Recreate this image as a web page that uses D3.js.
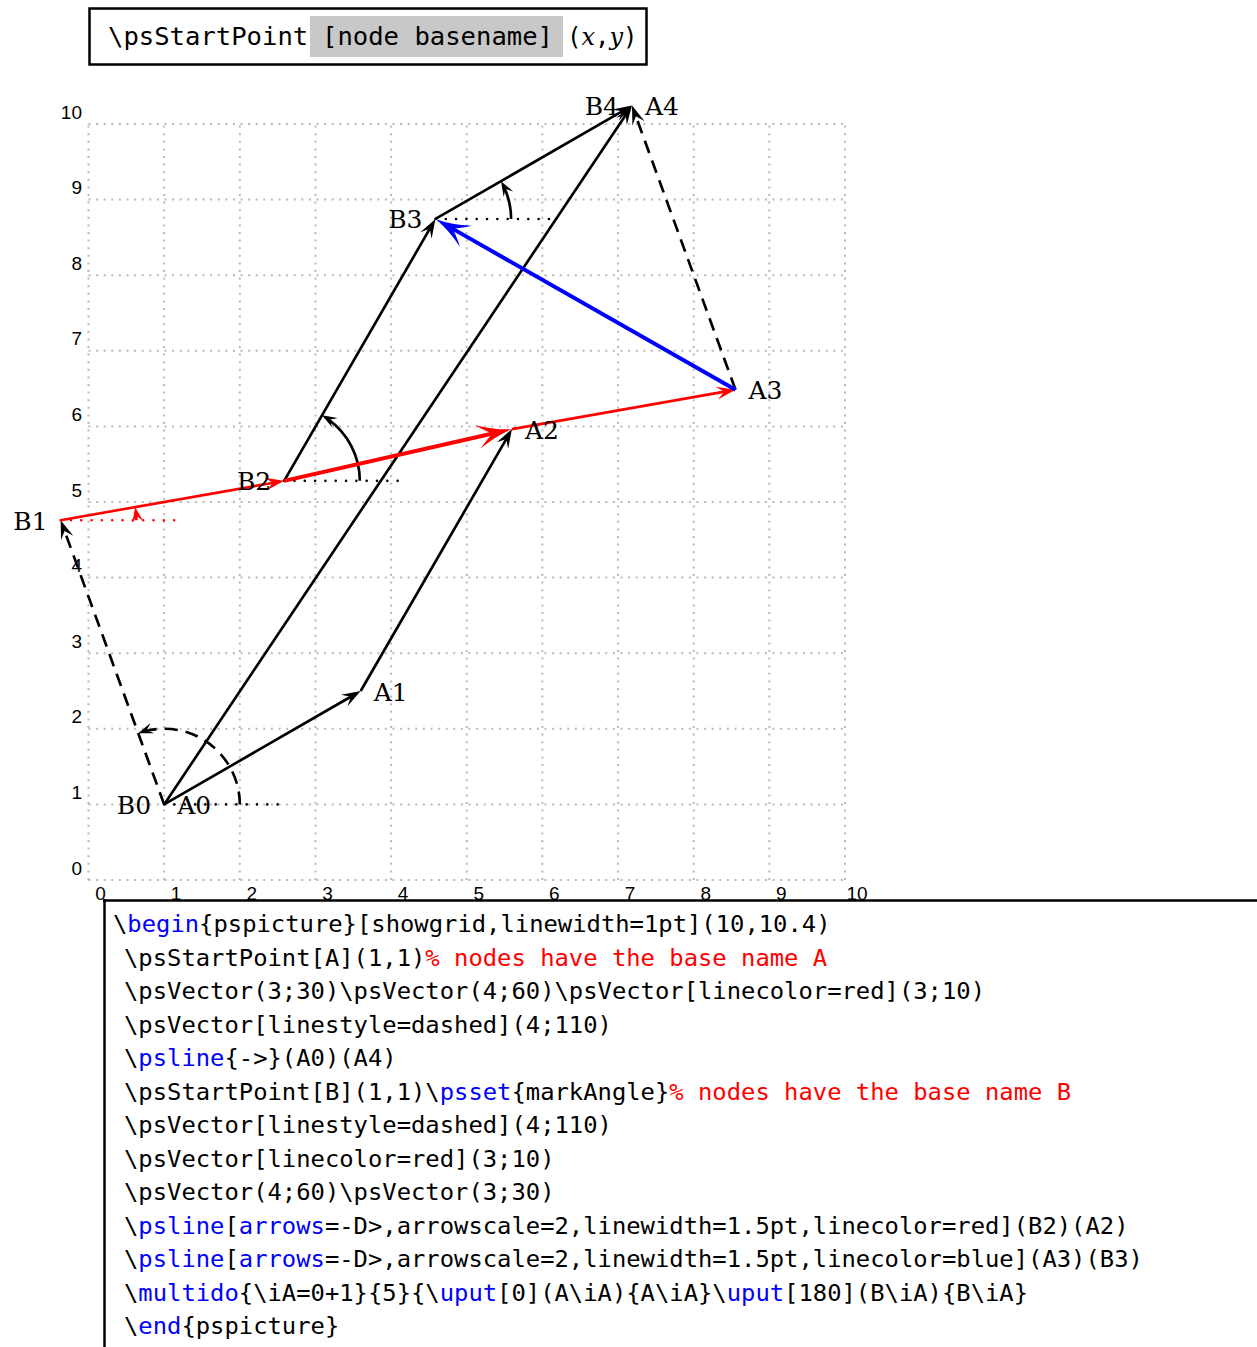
<!DOCTYPE html>
<html>
<head>
<meta charset="utf-8">
<script src="https://cdn.jsdelivr.net/npm/d3@7/dist/d3.min.js"></script>
<style>
  body { margin: 0; background: #fff; }
  svg text { white-space: pre; }
</style>
</head>
<body>
<svg id="chart" width="1257" height="1347"></svg>
<script>
// --- data ---
const startPoint = [1, 1];
const lengthsA = [3, 4, 3, 4];
const anglesA = [30, 60, 10, 110];
const lengthsB = [4, 3, 4, 3];
const anglesB = [110, 10, 60, 30];
const namesA = ['A0', 'A1', 'A2', 'A3', 'A4'];
const namesB = ['B0', 'B1', 'B2', 'B3', 'B4'];
const xTicks = [0, 1, 2, 3, 4, 5, 6, 7, 8, 9, 10];
const yTicks = [0, 1, 2, 3, 4, 5, 6, 7, 8, 9, 10];
const markRadius = 1;
const markLineLength = 1.5;

// styles per vector (kept apart from values)
const styleA = [
  { color: '#000', dash: null },
  { color: '#000', dash: null },
  { color: '#ff0000', dash: null },
  { color: '#000', dash: '13 8' }
];
const styleB = [
  { color: '#000', dash: '13 8' },
  { color: '#ff0000', dash: null },
  { color: '#000', dash: null },
  { color: '#000', dash: null }
];

const headerParts = ['\\psStartPoint', '[node basename]'];

const codeLines = [
  [['\\'], ['begin', 'kw'], ['{pspicture}[showgrid,linewidth=1pt](10,10.4)']],
  [['\\psStartPoint[A](1,1)'], ['% nodes have the base name A', 'cm']],
  [['\\psVector(3;30)\\psVector(4;60)\\psVector[linecolor=red](3;10)']],
  [['\\psVector[linestyle=dashed](4;110)']],
  [['\\'], ['psline', 'kw'], ['{->}(A0)(A4)']],
  [['\\psStartPoint[B](1,1)\\'], ['psset', 'kw'], ['{markAngle}'], ['% nodes have the base name B', 'cm']],
  [['\\psVector[linestyle=dashed](4;110)']],
  [['\\psVector[linecolor=red](3;10)']],
  [['\\psVector(4;60)\\psVector(3;30)']],
  [['\\'], ['psline', 'kw'], ['['], ['arrows', 'kw'], ['=-D>,arrowscale=2,linewidth=1.5pt,linecolor=red](B2)(A2)']],
  [['\\'], ['psline', 'kw'], ['['], ['arrows', 'kw'], ['=-D>,arrowscale=2,linewidth=1.5pt,linecolor=blue](A3)(B3)']],
  [['\\'], ['multido', 'kw'], ['{\\iA=0+1}{5}{\\'], ['uput', 'kw'], ['[0](A\\iA){A\\iA}\\'], ['uput', 'kw'], ['[180](B\\iA){B\\iA}']],
  [['\\'], ['end', 'kw'], ['{pspicture}']]
];

// --- setup ---
const svg = d3.select('#chart');
svg.append('rect').attr('width', 1257).attr('height', 1347).attr('fill', '#fff');

const x = d3.scaleLinear().domain([0, 10]).range([88.5, 845]);
const y = d3.scaleLinear().domain([0, 10]).range([880, 124]);
const LW = 2.66;

// walk polar vectors from the start point
function walk(lengths, angles) {
  const pts = [startPoint.slice()];
  lengths.forEach((r, i) => {
    const p = pts[pts.length - 1];
    const a = angles[i] * Math.PI / 180;
    pts.push([p[0] + r * Math.cos(a), p[1] + r * Math.sin(a)]);
  });
  return pts;
}
const ptsA = walk(lengthsA, anglesA);
const ptsB = walk(lengthsB, anglesB);

// --- grid ---
const grid = svg.append('g').attr('stroke', '#b8b8b8').attr('stroke-width', 2)
  .attr('stroke-dasharray', '2 5.6');
grid.selectAll('line.v').data(xTicks).join('line')
  .attr('x1', d => x(d)).attr('x2', d => x(d))
  .attr('y1', y(0)).attr('y2', y(10));
grid.selectAll('line.h').data(yTicks).join('line')
  .attr('class', 'h')
  .attr('y1', d => y(d)).attr('y2', d => y(d))
  .attr('x1', x(0)).attr('x2', x(10));

const xAxis = svg.append('g').attr('transform', 'translate(11.5,900)')
  .call(d3.axisBottom(x).tickValues(xTicks).tickSize(0).tickFormat(d3.format('d')));
xAxis.select('.domain').remove();
xAxis.selectAll('text').attr('y', 0).attr('dy', 0)
  .attr('font-family', 'Liberation Sans, Arial, sans-serif').attr('font-size', 19).attr('fill', '#000');

const yAxis = svg.append('g').attr('transform', 'translate(82,-6)')
  .call(d3.axisLeft(y).tickValues(yTicks).tickSize(0).tickFormat(d3.format('d')));
yAxis.select('.domain').remove();
yAxis.selectAll('text').attr('x', 0).attr('dy', 0)
  .attr('font-family', 'Liberation Sans, Arial, sans-serif').attr('font-size', 19).attr('fill', '#000');

// --- arrows ---
function headPath(kind) {
  if (kind === 'D') {
    const L = 35, W = 24;
    return `M0,0 Q${-0.45 * L},${-0.1 * W} ${-L},${-W / 2} Q${-0.7 * L},${-0.1 * W} ${-0.55 * L},0 ` +
      `Q${-0.7 * L},${0.1 * W} ${-L},${W / 2} Q${-0.45 * L},${0.1 * W} 0,0 Z`;
  }
  const L = kind === 'small' ? 15 : 19, W = kind === 'small' ? 11 : 13;
  return `M0,0 L${-L},${-W / 2} L${-0.6 * L},0 L${-L},${W / 2} Z`;
}
function headBack(kind) {
  return kind === 'D' ? 35 * 0.5 : 19 * 0.5;
}

const marks = svg.append('g');

function drawHead(tx, ty, angDeg, kind, color) {
  marks.append('path').attr('d', headPath(kind))
    .attr('fill', color)
    .attr('transform', `translate(${tx},${ty}) rotate(${angDeg})`);
}

function arrow(p0, p1, opt) {
  const x0 = x(p0[0]), y0 = y(p0[1]), x1 = x(p1[0]), y1 = y(p1[1]);
  const dx = x1 - x0, dy = y1 - y0, len = Math.hypot(dx, dy);
  const back = headBack(opt.head);
  const ex = x1 - dx / len * back, ey = y1 - dy / len * back;
  const ln = marks.append('line')
    .attr('x1', x0).attr('y1', y0).attr('x2', ex).attr('y2', ey)
    .attr('stroke', opt.color).attr('stroke-width', opt.width || LW);
  if (opt.dash) ln.attr('stroke-dasharray', opt.dash);
  drawHead(x1, y1, Math.atan2(dy, dx) * 180 / Math.PI, opt.head, opt.color);
}

// vectors from A
for (let i = 0; i < lengthsA.length; i++) {
  arrow(ptsA[i], ptsA[i + 1], { color: styleA[i].color, dash: styleA[i].dash, head: 'thin' });
}
// \psline{->}(A0)(A4)
arrow(ptsA[0], ptsA[4], { color: '#000', head: 'thin' });

// vectors from B with angle marks
for (let i = 0; i < lengthsB.length; i++) {
  const p = ptsB[i], st = styleB[i];
  const cx = x(p[0]), cy = y(p[1]);
  // dotted horizontal reference
  const dl = x(p[0] + markLineLength) - cx;
  marks.append('line')
    .attr('x1', cx).attr('y1', cy)
    .attr('x2', cx + dl + 1).attr('y2', cy)
    .attr('stroke', st.color).attr('stroke-width', 2.6)
    .attr('stroke-linecap', 'round').attr('stroke-dasharray', `0 ${dl / 11}`);
  // arc
  const r = x(markRadius) - x(0);
  const th = anglesB[i] * Math.PI / 180;
  const stop = th - 7 / r;
  const path = d3.path();
  path.moveTo(cx + r, cy);
  path.arc(cx, cy, r, 0, -stop, true);
  const arc = marks.append('path').attr('d', path.toString())
    .attr('fill', 'none').attr('stroke', st.color).attr('stroke-width', LW);
  if (st.dash) arc.attr('stroke-dasharray', st.dash);
  const tx = cx + r * Math.cos(th), ty = cy - r * Math.sin(th);
  drawHead(tx, ty, Math.atan2(-Math.cos(th), -Math.sin(th)) * 180 / Math.PI, 'small', st.color);
  arrow(ptsB[i], ptsB[i + 1], { color: st.color, dash: st.dash, head: 'thin' });
}

// thick lines with D> arrows
arrow(ptsB[2], ptsA[2], { color: '#ff0000', width: 4, head: 'D' });
arrow(ptsA[3], ptsB[3], { color: '#0000ff', width: 4, head: 'D' });

// --- node labels ---
const labels = svg.append('g').attr('font-family', 'DejaVu Serif, serif').attr('font-size', 25)
  .attr('fill', '#000').attr('dominant-baseline', 'central');
labels.selectAll('text.a').data(ptsA).join('text').attr('class', 'a')
  .attr('x', d => x(d[0]) + 13).attr('y', d => y(d[1]) + 1)
  .attr('text-anchor', 'start').text((d, i) => namesA[i]);
labels.selectAll('text.b').data(ptsB).join('text').attr('class', 'b')
  .attr('x', d => x(d[0]) - 13).attr('y', d => y(d[1]) + 1)
  .attr('text-anchor', 'end').text((d, i) => namesB[i]);

// --- header box ---
const head = svg.append('g');
head.append('rect').attr('x', 89.5).attr('y', 8.5).attr('width', 557).attr('height', 56)
  .attr('fill', '#fff').attr('stroke', '#000').attr('stroke-width', 2.5);
head.append('rect').attr('x', 310).attr('y', 16).attr('width', 253).attr('height', 41)
  .attr('fill', '#c8c8c8');
const hcw = 15.4;
head.append('text').attr('x', 108).attr('y', 45)
  .attr('font-family', 'DejaVu Sans Mono, monospace').attr('font-size', 24)
  .attr('textLength', headerParts[0].length * hcw).attr('lengthAdjust', 'spacingAndGlyphs')
  .text(headerParts[0]);
head.append('text').attr('x', 322).attr('y', 45)
  .attr('font-family', 'DejaVu Sans Mono, monospace').attr('font-size', 24)
  .attr('textLength', headerParts[1].length * hcw).attr('lengthAdjust', 'spacingAndGlyphs')
  .text(headerParts[1]);
const xy = head.append('text').attr('x', 567).attr('y', 45)
  .attr('font-family', 'DejaVu Sans Mono, monospace').attr('font-size', 24);
xy.append('tspan').text('(');
xy.append('tspan').attr('font-family', 'DejaVu Serif, serif').attr('font-style', 'italic').text('x');
xy.append('tspan').text(',');
xy.append('tspan').attr('font-family', 'DejaVu Serif, serif').attr('font-style', 'italic').text('y');
xy.append('tspan').text(')');

// --- code listing ---
const code = svg.append('g');
code.append('line').attr('x1', 104.5).attr('x2', 104.5).attr('y1', 899).attr('y2', 1347)
  .attr('stroke', '#000').attr('stroke-width', 2.5);
code.append('line').attr('x1', 103).attr('x2', 1257).attr('y1', 900.5).attr('y2', 900.5)
  .attr('stroke', '#000').attr('stroke-width', 2.5);
const cw = 14.35;
const colors = { kw: '#0000ff', cm: '#ff0000' };
codeLines.forEach((segs, li) => {
  let col = 0;
  const x0 = li === 0 ? 113 : 124;
  const by = 932 + li * 33.5;
  segs.forEach(([t, k]) => {
    code.append('text')
      .attr('x', x0 + col * cw).attr('y', by)
      .attr('font-family', 'DejaVu Sans Mono, monospace').attr('font-size', 23)
      .attr('fill', colors[k] || '#000')
      .attr('textLength', t.length * cw).attr('lengthAdjust', 'spacingAndGlyphs')
      .text(t);
    col += t.length;
  });
});
</script>
</body>
</html>
